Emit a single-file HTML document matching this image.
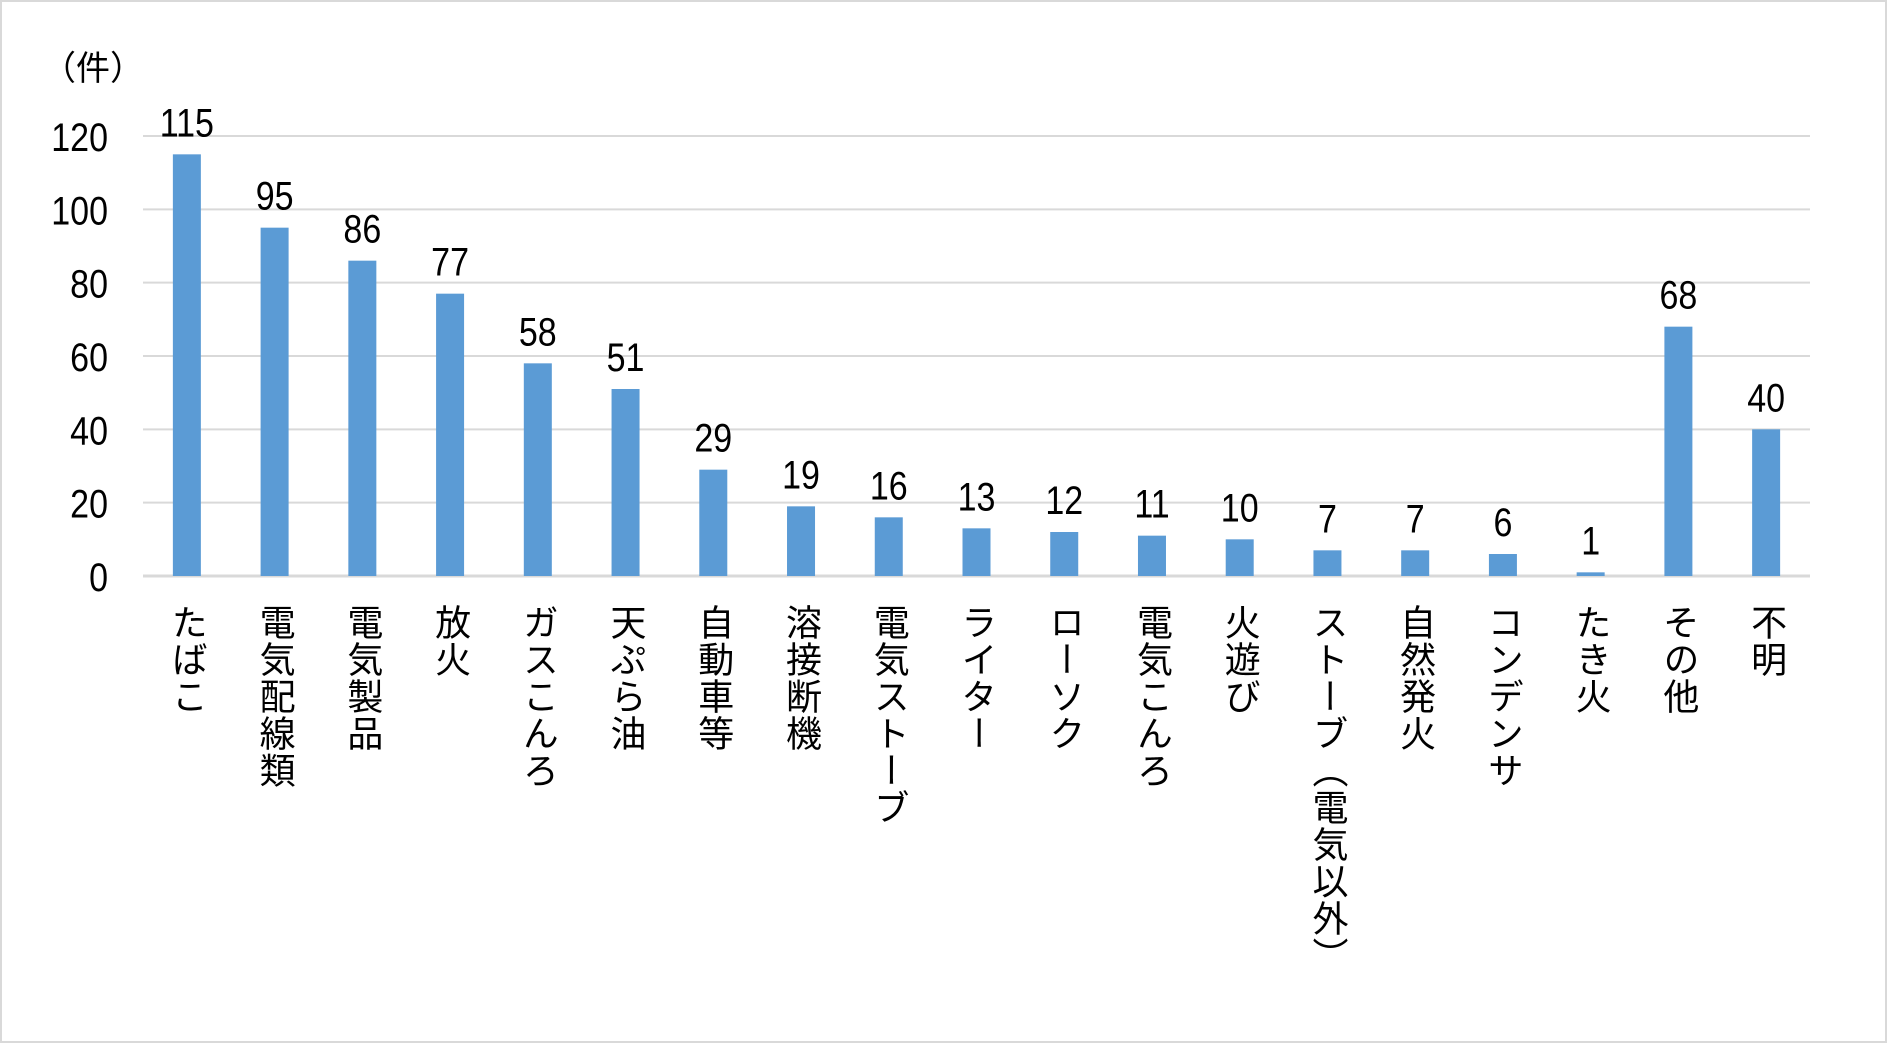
<!DOCTYPE html>
<html><head><meta charset="utf-8">
<style>
html,body{margin:0;padding:0;background:#fff;}
#wrap{position:relative;width:1887px;height:1043px;overflow:hidden;background:#fff;box-sizing:border-box;border:2px solid #d9d9d9;}
svg{position:absolute;left:0;top:0;}
.cat{position:absolute;writing-mode:vertical-rl;font-family:"Liberation Sans","Noto Sans CJK JP",sans-serif;font-size:36px;line-height:36px;color:#000;letter-spacing:1px;}
</style></head>
<body>
<div id="wrap">
<svg id="chart" width="1887" height="1043"></svg>
</div>
<script>
const categories=["たばこ","電気配線類","電気製品","放火","ガスこんろ","天ぷら油","自動車等","溶接断機","電気ストーブ","ライター","ローソク","電気こんろ","火遊び","ストーブ（電気以外）","自然発火","コンデンサ","たき火","その他","不明"];
const values=[115,95,86,77,58,51,29,19,16,13,12,11,10,7,7,6,1,68,40];
const yTicks=[0,20,40,60,80,100,120];

const NS="http://www.w3.org/2000/svg";
const svg=document.getElementById('chart');
const wrap=document.getElementById('wrap');
const plotL=141,plotR=1808,baseY=574,topY=134,yMax=120;
const step=(plotR-plotL)/categories.length;
const barW=28;
function y(v){return baseY-(v/yMax)*(baseY-topY);}
function xc(i){return plotL+step*(i+0.5);}
function num(x,yy,txt,anchor,name){
  const t=document.createElementNS(NS,'text');
  const s=0.85;
  t.setAttribute('x',x/s);t.setAttribute('y',yy);
  t.setAttribute('transform','scale('+s+',1)');
  t.setAttribute('text-anchor',anchor);
  t.setAttribute('font-family','Liberation Sans, sans-serif');
  t.setAttribute('font-size','40');
  t.setAttribute('fill','#000');
  t.textContent=txt;
  
  
  svg.appendChild(t);
}
yTicks.forEach(v=>{
  const l=document.createElementNS(NS,'line');
  l.setAttribute('x1',plotL);l.setAttribute('x2',plotR);
  l.setAttribute('y1',y(v));l.setAttribute('y2',y(v));
  l.setAttribute('stroke','#d9d9d9');l.setAttribute('stroke-width',v===0?3:2);
  
  
  svg.appendChild(l);
  num(106,y(v)+15,String(v),'end','y-tick-'+v);
});
const u=document.createElementNS(NS,'text');
u.setAttribute('x',40);u.setAttribute('y',78);
u.setAttribute('font-family','Liberation Sans, Noto Sans CJK JP, sans-serif');
u.setAttribute('font-size','34');
u.textContent='（件）';


svg.appendChild(u);
values.forEach((v,i)=>{
  const r=document.createElementNS(NS,'rect');
  r.setAttribute('x',xc(i)-barW/2);r.setAttribute('y',y(v));
  r.setAttribute('width',barW);r.setAttribute('height',baseY-y(v));
  r.setAttribute('fill','#5b9bd5');
  
  
  svg.appendChild(r);
  num(xc(i),y(v)-18,String(v),'middle','value-label-'+i);
});
categories.forEach((c,i)=>{
  const d=document.createElement('div');
  d.className='cat';
  d.textContent=c;
  d.style.left=(xc(i)-18)+'px';
  d.style.top='602px';
  
  
  wrap.appendChild(d);
});
</script>
</body></html>
